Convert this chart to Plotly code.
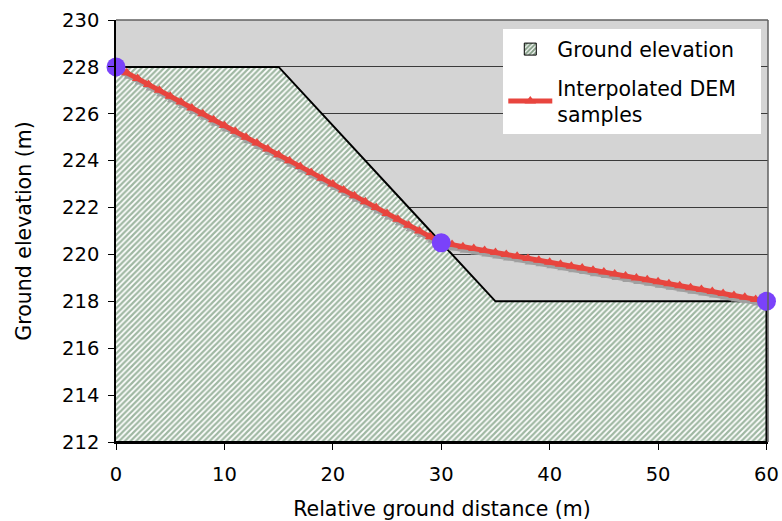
import plotly.graph_objects as go

# ---- data ----
ground_x = [0, 15, 30, 35, 60]
ground_y = [228, 228, 220.5, 218, 218]
base_elev = 212

dem_x = list(range(0, 61))
dem_y = [228, 227.75, 227.5, 227.25, 227, 226.75, 226.5, 226.25, 226, 225.75,
         225.5, 225.25, 225, 224.75, 224.5, 224.25, 224, 223.75, 223.5, 223.25,
         223, 222.75, 222.5, 222.25, 222, 221.75, 221.5, 221.25, 221, 220.75,
         220.5, 220.42, 220.33, 220.25, 220.17, 220.08, 220, 219.92, 219.83, 219.75,
         219.67, 219.58, 219.5, 219.42, 219.33, 219.25, 219.17, 219.08, 219, 218.92,
         218.83, 218.75, 218.67, 218.58, 218.5, 218.42, 218.33, 218.25, 218.17, 218.08,
         218]

dem_pts_x = [0, 30, 60]
dem_pts_y = [228, 220.5, 218]

x_ticks = [0, 10, 20, 30, 40, 50, 60]
y_ticks = [212, 214, 216, 218, 220, 222, 224, 226, 228, 230]

XR = [0, 60.14]
YR = [212, 230]
FONT = "DejaVu Sans, Verdana, sans-serif"
HATCH = "#3f7046"

fig = go.Figure()

# ground polygon (hatched)
fig.add_trace(go.Scatter(
    x=ground_x + [ground_x[-1], ground_x[0]],
    y=ground_y + [base_elev, base_elev],
    mode="lines", fill="toself",
    fillcolor="white",
    fillpattern=dict(shape="/", fgcolor=HATCH, bgcolor="white", size=4, solidity=0.55),
    line=dict(color="black", width=2),
    name="Ground elevation", showlegend=False,
    xaxis="x", yaxis="y",
))

# legend swatch for the ground (empty bar proxy)
fig.add_trace(go.Bar(
    x=[None], y=[None], name="Ground elevation",
    marker=dict(color="white",
                pattern=dict(shape="/", fgcolor="#0c4010", bgcolor="white", size=4, solidity=0.65),
                line=dict(color="black", width=1)),
    xaxis="x4", yaxis="y4", legendrank=1, legendgroup="g1",
))

# shadow of the DEM line (drawn through shifted overlay axes)
fig.add_trace(go.Scatter(
    x=dem_x, y=dem_y, mode="lines+markers",
    line=dict(color="#a0a0a0", width=5),
    marker=dict(symbol="triangle-up", size=10, color="#a0a0a0"),
    showlegend=False, hoverinfo="skip",
    xaxis="x2", yaxis="y2",
))

# DEM line
fig.add_trace(go.Scatter(
    x=dem_x, y=dem_y, mode="lines+markers",
    line=dict(color="#e8453e", width=5),
    marker=dict(symbol="triangle-up", size=10, color="#e8453e"),
    name="Interpolated DEM\u00a0\u00a0\u00a0<br>samples", legendrank=2, legendgroup="g2",
    xaxis="x3", yaxis="y3",
))

# DEM source points
fig.add_trace(go.Scatter(
    x=dem_pts_x, y=dem_pts_y, mode="markers",
    marker=dict(size=19, color="#7a42fa"),
    showlegend=False, cliponaxis=False,
    xaxis="x3", yaxis="y3",
))

dx = 2.5 / 10.84
dy = 3.5 / 23.45

fig.update_layout(
    width=782, height=521,
    margin=dict(l=116, r=14, t=20, b=79),
    paper_bgcolor="white", plot_bgcolor="#d4d4d4",
    font=dict(family=FONT, size=19.5, color="black"),
    showlegend=True,
    legend=dict(x=0.594, y=0.978, xanchor="left", yanchor="top",
                bgcolor="white", borderwidth=0, traceorder="grouped",
                tracegroupgap=9,
                font=dict(size=20.5), itemwidth=44),
    xaxis=dict(range=XR, tickvals=x_ticks, showgrid=False, zeroline=False,
               showline=True, linecolor="black", linewidth=1.5, automargin=False,
               ticks="outside", ticklen=6, tickcolor="black", ticklabelstandoff=8,
               title=dict(text="Relative ground distance (m)", standoff=18,
                          font=dict(size=20.5))),
    yaxis=dict(range=YR, tickvals=y_ticks, showgrid=True, gridcolor="#3a3a3a", gridwidth=1,
               zeroline=False, showline=True, linecolor="black", linewidth=1.5, automargin=False,
               ticks="outside", ticklen=6, tickcolor="black", ticklabelstandoff=5,
               title=dict(text="Ground elevation (m)", standoff=25,
                          font=dict(size=20.5))),
    xaxis2=dict(range=[XR[0] - dx, XR[1] - dx], overlaying="x", visible=False),
    yaxis2=dict(range=[YR[0] + dy, YR[1] + dy], overlaying="y", visible=False),
    xaxis3=dict(range=XR, overlaying="x", visible=False),
    yaxis3=dict(range=YR, overlaying="y", visible=False),
    xaxis4=dict(overlaying="x", visible=False),
    yaxis4=dict(overlaying="y", visible=False),
    shapes=[
        dict(type="line", xref="paper", yref="paper", x0=0, x1=1, y0=1, y1=1,
             line=dict(color="#606060", width=1.5)),
        dict(type="line", xref="paper", yref="paper", x0=1, x1=1, y0=0, y1=1,
             line=dict(color="#606060", width=1.5)),
    ],
)

fig.write_html("out.html")
